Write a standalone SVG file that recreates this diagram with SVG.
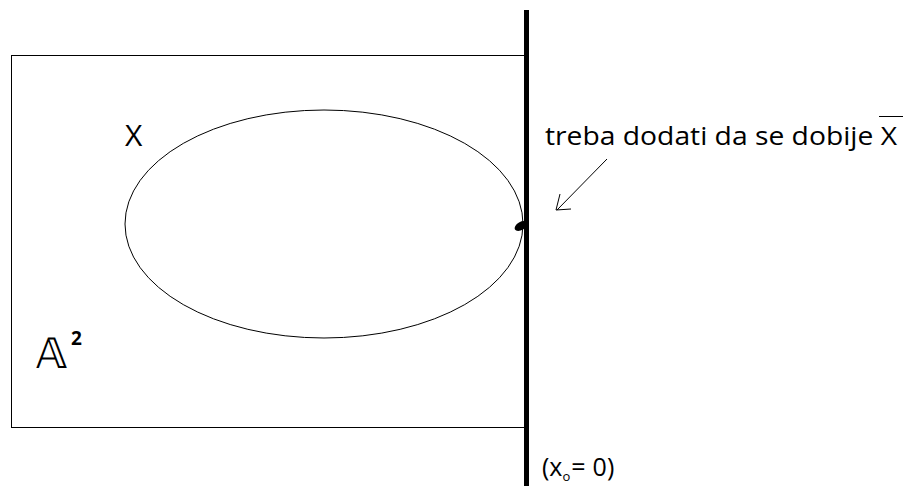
<svg xmlns="http://www.w3.org/2000/svg" width="904" height="486" viewBox="0 0 904 486">
<style>
.t{font-family:"Open Sans","Liberation Sans",sans-serif;fill:#000}
.thin{fill:none;stroke:#000;stroke-width:1}
</style>
<rect width="904" height="486" fill="#fff"/>
<g id="plane">
<rect class="thin" x="11.5" y="55.5" width="516" height="372"/>
<text class="t" x="36" y="368" font-size="42" font-family="DejaVu Sans">𝔸</text>
<text class="t" x="71" y="345" font-size="19" font-weight="bold">2</text>
</g>
<g id="X">
<ellipse class="thin" cx="324" cy="224" rx="199" ry="114"/>
<text class="t" x="125" y="146" font-size="30">X</text>
</g>
<g id="line">
<rect x="524" y="10" width="5" height="476" fill="#000"/>
<ellipse cx="521" cy="226" rx="7" ry="4" transform="rotate(-30 521 226)" fill="#000"/>
<text class="t" x="542" y="476" font-size="25">(x<tspan font-size="13" dy="5">o</tspan><tspan dy="-5" dx="1">=</tspan><tspan dx="7">0)</tspan></text>
</g>
<g id="note">
<text class="t" x="545" y="145" font-size="25" textLength="352" lengthAdjust="spacingAndGlyphs">treba dodati da se dobije X</text>
<line class="thin" x1="879" y1="116.5" x2="903" y2="116.5"/>
</g>
<g id="connectors">
<line class="thin" x1="607" y1="159" x2="557" y2="210"/>
<polyline class="thin" points="560,194 556,210 571,209"/>
</g>
</svg>
